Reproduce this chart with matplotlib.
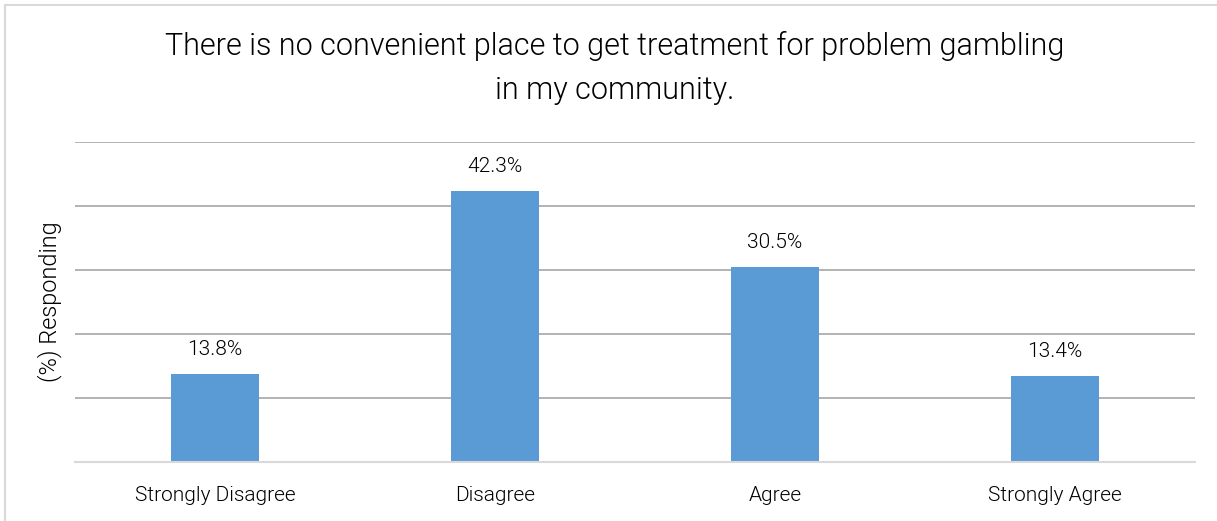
import matplotlib
matplotlib.use("Agg")
import matplotlib.pyplot as plt
from matplotlib.patches import Rectangle

categories = ["Strongly Disagree", "Disagree", "Agree", "Strongly Agree"]
values = [13.8, 42.3, 30.5, 13.4]
value_labels = ["13.8%", "42.3%", "30.5%", "13.4%"]
title = "There is no convenient place to get treatment for problem gambling\nin my community."
y_label = "(%) Responding"

plt.rcParams["font.family"] = ["Roboto", "DejaVu Sans"]
plt.rcParams["font.weight"] = 300

fig = plt.figure(figsize=(12.17, 5.21), dpi=100)
W, H = 1217, 521
ax = fig.add_axes([75 / W, 59 / H, 1120 / W, 320 / H])

x = range(len(categories))
ax.bar(x, values, width=0.314, color="#5b9bd5", zorder=3)

ax.set_xlim(-0.5, len(categories) - 0.5)
ax.set_ylim(0, 50)
ax.set_yticks([0, 10, 20, 30, 40, 50])
ax.set_yticklabels([])
ax.tick_params(axis="y", length=0)
ax.tick_params(axis="x", length=0, pad=17, labelsize=15, labelcolor="#000000")
ax.set_xticks(list(x))
ax.set_xticklabels(categories, fontweight=300)
ax.grid(axis="y", color="#a6a6a6", linewidth=1.2, zorder=0)
for s in ["top", "right", "left"]:
    ax.spines[s].set_visible(False)
ax.spines["bottom"].set_color("#d9d9d9")
ax.spines["bottom"].set_linewidth(1.5)
ax.spines["bottom"].set_zorder(4)

for xi, v, lab in zip(x, values, value_labels):
    ax.annotate(lab, (xi, v), xytext=(0, 17.5), textcoords="offset points",
                ha="center", va="center", fontsize=15, color="#000000",
                fontweight=300)

ax.set_ylabel(y_label, fontsize=17, color="#000000", fontweight=300, labelpad=6)

fig.text(615 / W, 1 - 68 / H, title, ha="center", va="center", fontsize=22,
         color="#000000", fontweight=300, linespacing=1.62)

# outer frame around the chart area
fig.patches.append(Rectangle((5 / W, -0.05), 1.2, 1 - 5 / H + 0.05, transform=fig.transFigure,
                             fill=False, edgecolor="#d9d9d9", linewidth=1.5))

fig.savefig("out.png", dpi=100)
